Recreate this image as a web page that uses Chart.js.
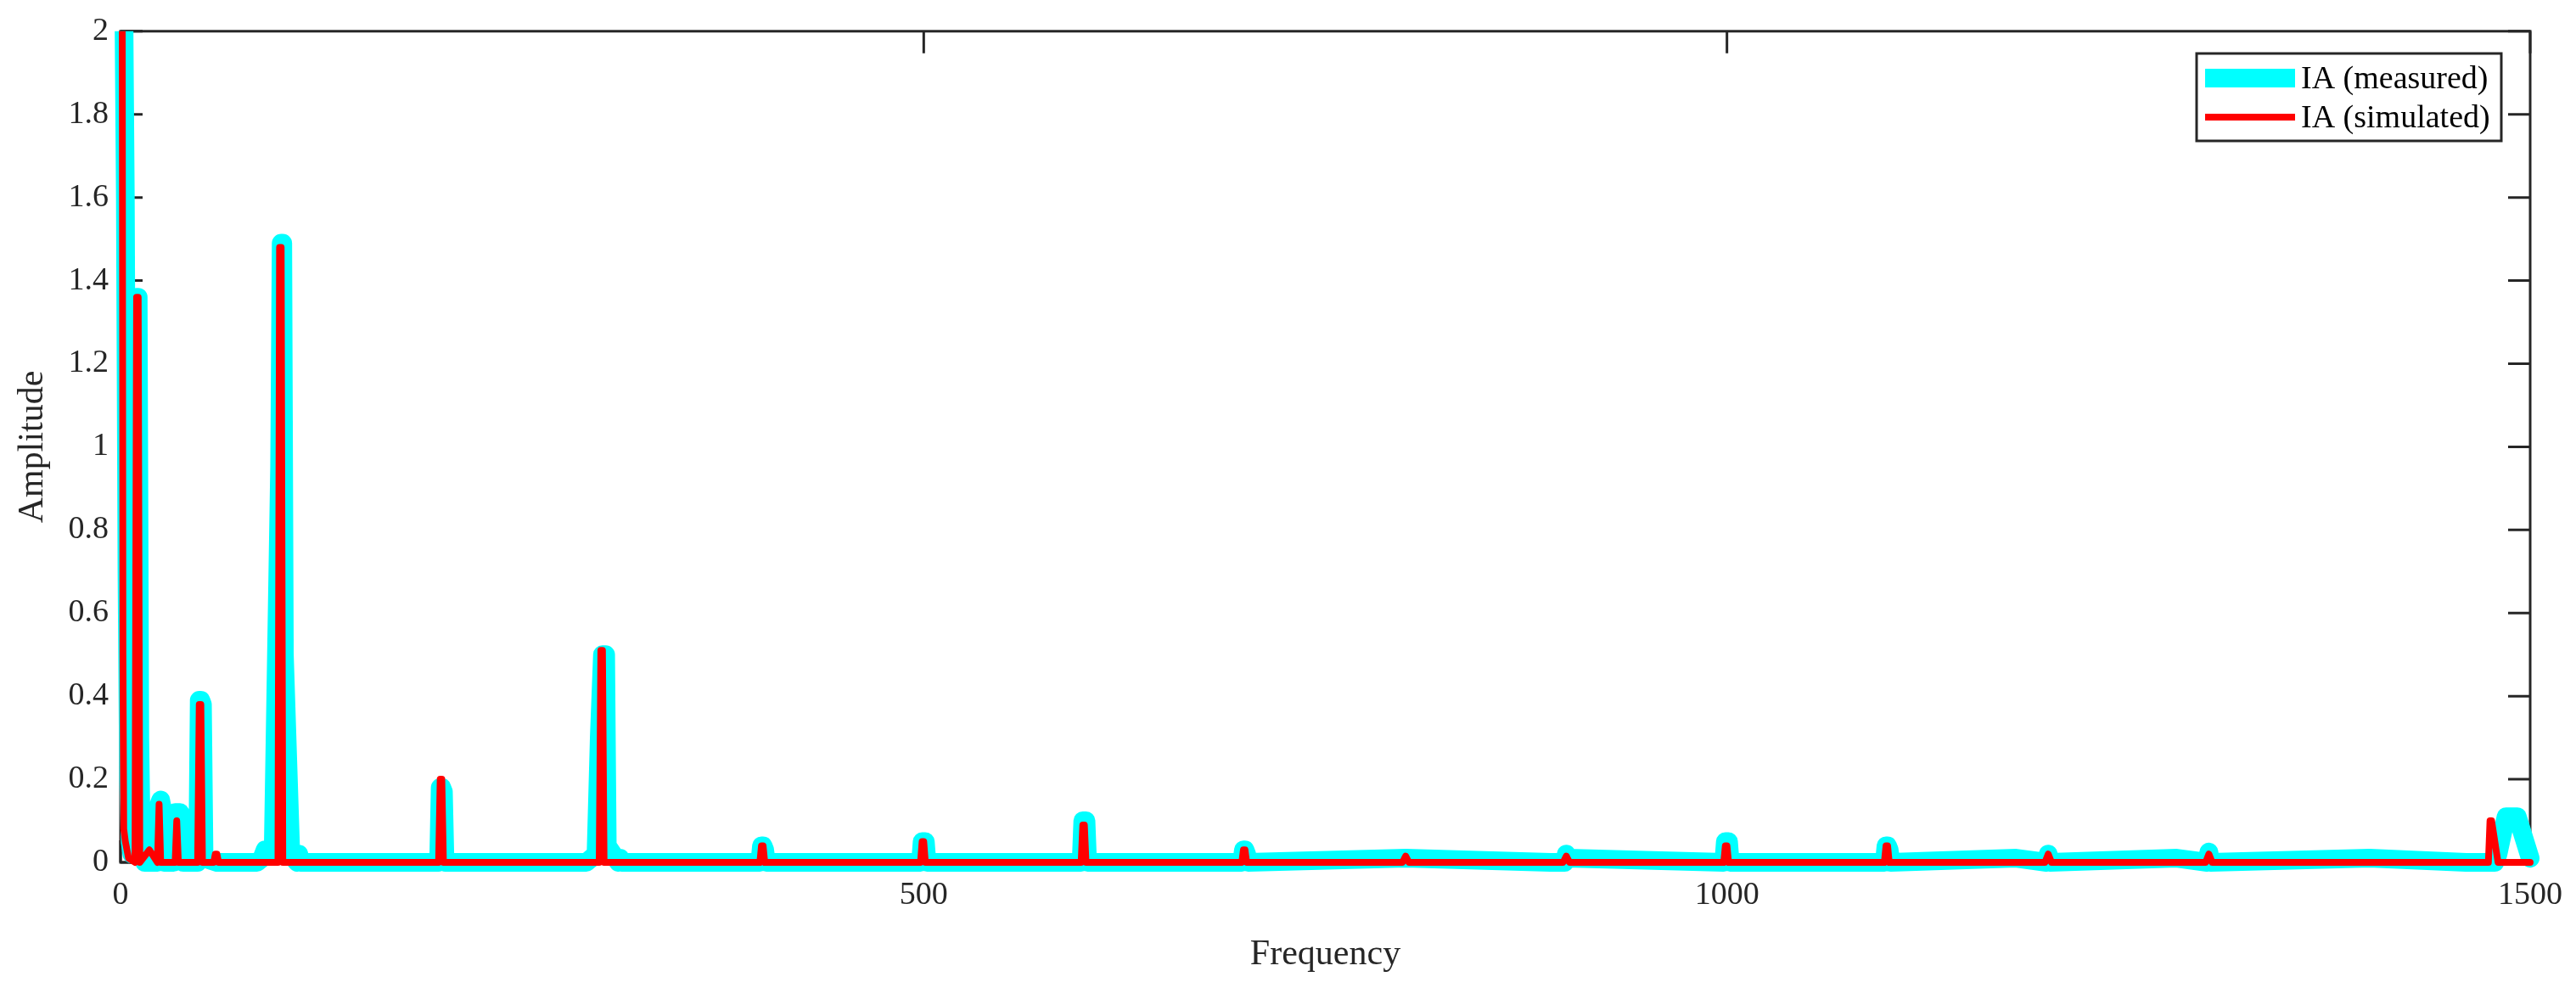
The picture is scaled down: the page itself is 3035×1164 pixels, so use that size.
<!DOCTYPE html>
<html><head><meta charset="utf-8">
<script src="https://cdn.jsdelivr.net/npm/chart.js@4/dist/chart.umd.min.js"></script>
<style>html,body{margin:0;padding:0;background:#fff}#w{width:3035px;height:1164px}</style>
</head><body><div id="w"><canvas id="c"></canvas></div>
<script>
const xTicks = [0, 500, 1000, 1500];
const yTicks = [0, 0.2, 0.4, 0.6, 0.8, 1, 1.2, 1.4, 1.6, 1.8, 2];
const measuredFreq = [0,0.5,1,2,3,4,5,6,7,8,9,10,11,12,13,15,23,24,25,26,27,33,34,37,38,39,40,48,49,50,51,52,60,85,88,90,91,95,99,100,101,102,106,110,111,112,150,195,198,199,200,201,202,205,250,290,296,298,300,301,302,303,310,311,312,350,398,399,400,401,402,498,499,500,501,502,580,598,599,600,601,602,698,699,700,701,702,800,890,899,900,901,998,999,1000,1001,1002,1098,1099,1100,1101,1102,1180,1199,1200,1201,1280,1299,1300,1301,1400,1460,1478,1480,1485,1490,1492,1500];
const measuredAmp  = [2.3,2.3,2.3,2.1,1.6,0.7,0.2,0.05,0.02,0.05,0.3,1.36,1.36,0.3,0.03,0.0,0.0,0.14,0.15,0.13,0.0,0.0,0.12,0.12,0.02,0.0,0.0,0.0,0.39,0.39,0.38,0.01,0.0,0.0,0.01,0.03,0.03,0.02,0.95,1.49,1.49,0.5,0.02,0.0,0.02,0.0,0.0,0.0,0.0,0.18,0.18,0.17,0.0,0.0,0.0,0.0,0.02,0.3,0.5,0.5,0.5,0.04,0.0,0.01,0.0,0.0,0.0,0.04,0.04,0.03,0.0,0.0,0.05,0.05,0.05,0.0,0.0,0.0,0.1,0.1,0.1,0.0,0.0,0.03,0.03,0.02,0.0,0.01,0.0,0.0,0.02,0.01,0.0,0.05,0.05,0.05,0.0,0.0,0.04,0.04,0.03,0.0,0.01,0.0,0.02,0.0,0.01,0.0,0.025,0.0,0.01,0.0,0.0,0.02,0.11,0.11,0.11,0.01,0.0];
const simFreq = [0,0.5,1,1.5,2,3,5,9,10,11,12,18,23,24,25,34,35,36,48,49,50,51,58,59,60,61,98,99,100,101,102,198,199,200,201,202,298,299,300,301,302,398,399,400,401,402,498,499,500,501,502,598,599,600,601,602,698,699,700,701,702,798,800,802,898,900,902,998,999,1000,1001,1002,1098,1099,1100,1101,1102,1198,1200,1202,1298,1300,1302,1470,1474,1475,1476,1480,1500];
const simAmp  = [2.3,2.3,2.3,0.5,0.08,0.05,0.01,0.0,1.36,1.36,0.0,0.03,0.0,0.14,0.0,0.0,0.1,0.0,0.0,0.38,0.38,0.0,0.0,0.02,0.02,0.0,0.0,1.48,1.48,0.0,0.0,0.0,0.2,0.2,0.0,0.0,0.0,0.51,0.51,0.0,0.0,0.0,0.04,0.04,0.0,0.0,0.0,0.05,0.05,0.0,0.0,0.0,0.09,0.09,0.0,0.0,0.0,0.03,0.03,0.0,0.0,0.0,0.015,0.0,0.0,0.015,0.0,0.0,0.04,0.04,0.0,0.0,0.0,0.04,0.04,0.0,0.0,0.0,0.02,0.0,0.0,0.02,0.0,0.0,0.0,0.1,0.1,0.0,0.0];
const seriesNames = ['IA (measured)', 'IA (simulated)'];
const FONT = '"Liberation Serif", "DejaVu Serif", serif';
const toXY = (f,a)=>f.map((x,i)=>({x, y:a[i]}));

const boxTicks = {
  id:'boxTicks',
  beforeDatasetsDraw(ch){
    const {ctx, chartArea:a, scales:{x,y}} = ch;
    ctx.save(); ctx.strokeStyle='#262626'; ctx.lineWidth=3;
    ctx.strokeRect(a.left,a.top,a.right-a.left,a.bottom-a.top);
    const L=26;
    ctx.beginPath();
    xTicks.forEach(t=>{const px=x.getPixelForValue(t);
      ctx.moveTo(px,a.bottom);ctx.lineTo(px,a.bottom-L);ctx.moveTo(px,a.top);ctx.lineTo(px,a.top+L);});
    yTicks.forEach(t=>{const py=y.getPixelForValue(t);
      ctx.moveTo(a.left,py);ctx.lineTo(a.left+L,py);ctx.moveTo(a.right,py);ctx.lineTo(a.right-L,py);});
    ctx.stroke();
    ctx.restore();
  },
  afterDraw(ch){
    const ctx = ch.ctx;
    ctx.save(); ctx.strokeStyle='#262626'; ctx.lineWidth=3;
    const lx=2588, ly=63, lw=359, lh=103;
    ctx.fillStyle='#fff'; ctx.fillRect(lx,ly,lw,lh);
    ctx.strokeRect(lx,ly,lw,lh);
    ctx.fillStyle='#00ffff'; ctx.fillRect(lx+10,ly+18,106,22);
    ctx.fillStyle='#ff0000'; ctx.fillRect(lx+10,ly+71,106,8);
    ctx.fillStyle='#000'; ctx.font='38px '+FONT; ctx.textBaseline='middle';
    ctx.fillText(seriesNames[0],lx+123,ly+31);
    ctx.fillText(seriesNames[1],lx+123,ly+77);
    ctx.restore();
  }
};

new Chart(document.getElementById('c'), {
  type:'line',
  data:{datasets:[
    {label:seriesNames[0], order:2, clip:{left:false,right:false,bottom:false,top:0}, data:toXY(measuredFreq,measuredAmp), borderColor:'#00ffff', borderWidth:22, pointRadius:0, borderCapStyle:'round', borderJoinStyle:'round', tension:0},
    {label:seriesNames[1], order:1, clip:{left:false,right:false,bottom:false,top:0}, data:toXY(simFreq,simAmp), borderColor:'#ff0000', borderWidth:8, pointRadius:0, borderCapStyle:'round', borderJoinStyle:'round', tension:0}
  ]},
  options:{
    responsive:true, maintainAspectRatio:false, animation:false, devicePixelRatio:1,
    layout:{padding:{top:30, right:50, left:10, bottom:10}},
    plugins:{legend:{display:false}, tooltip:{enabled:false}},
    scales:{
      x:{type:'linear', min:0, max:1500,
        afterBuildTicks:s=>{s.ticks=xTicks.map(v=>({value:v}));},
        grid:{display:false, drawTicks:false}, border:{display:false},
        ticks:{font:{family:FONT,size:38}, color:'#262626', padding:16, maxRotation:0, callback:v=>String(v)},
        title:{display:true, text:'Frequency', font:{family:FONT,size:42}, color:'#262626', padding:{top:6}}},
      y:{min:0, max:2,
        afterBuildTicks:s=>{s.ticks=yTicks.map(v=>({value:v}));},
        afterFit:s=>{s.width=132;},
        grid:{display:false, drawTicks:false}, border:{display:false},
        ticks:{font:{family:FONT,size:38}, color:'#262626', padding:14, callback:v=>String(v)},
        title:{display:true, text:'Amplitude', font:{family:FONT,size:42}, color:'#262626', padding:{bottom:4}}}
    }
  },
  plugins:[boxTicks]
});
</script></body></html>
